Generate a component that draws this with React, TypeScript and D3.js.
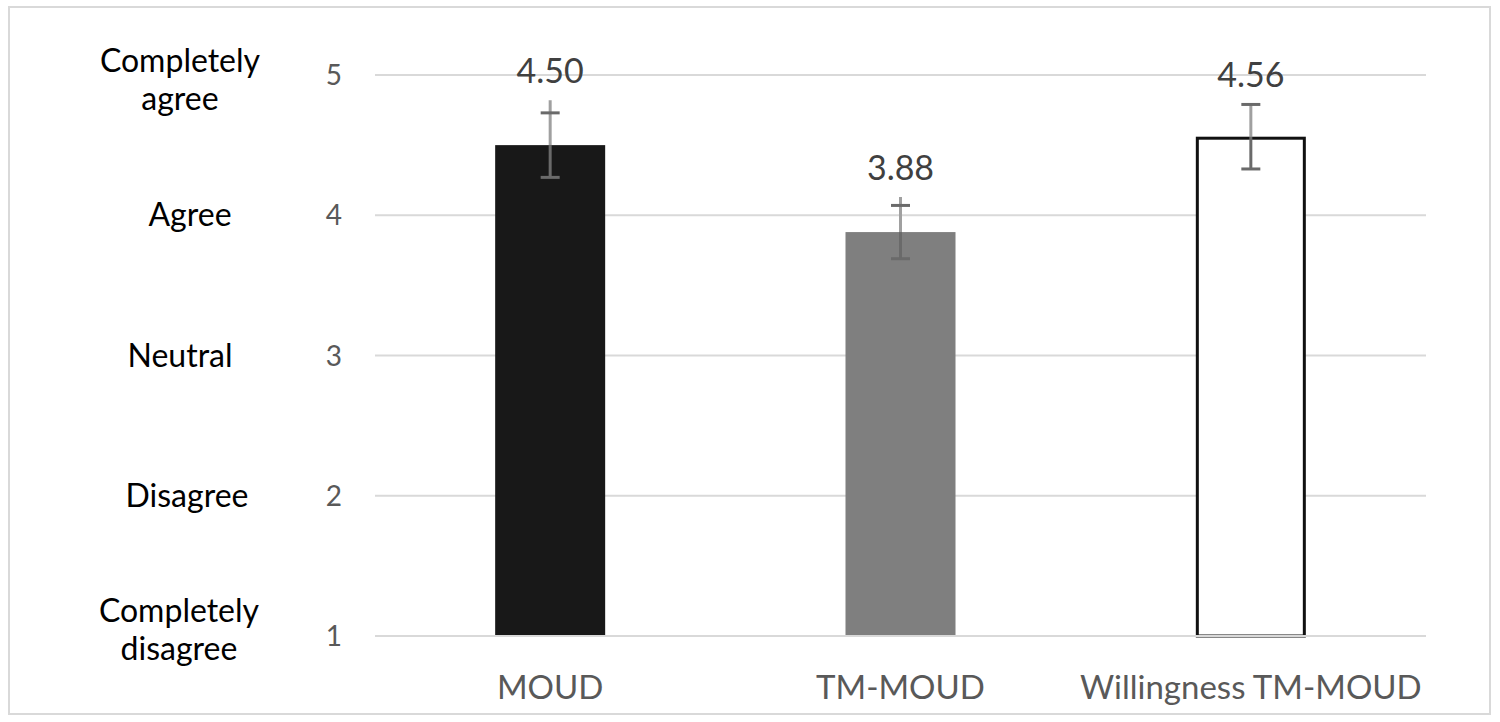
import React from "react";
import * as d3 from "d3";

const categories = ["MOUD", "TM-MOUD", "Willingness TM-MOUD"];
const means = [4.5, 3.88, 4.56];
const errLow = [4.27, 3.69, 4.33];
const errHigh = [4.73, 4.07, 4.79];
const errLineTop = [4.82, 4.13, 4.79];
const valueLabels = ["4.50", "3.88", "4.56"];
const yTicks = [1, 2, 3, 4, 5];
const scaleLabels = [
  { v: 5, lines: ["Completely", "agree"] },
  { v: 4, lines: ["Agree"] },
  { v: 3, lines: ["Neutral"] },
  { v: 2, lines: ["Disagree"] },
  { v: 1, lines: ["Completely", "disagree"] },
];

const W = 1500;
const H = 722;
const FONT = "Lato, 'Open Sans', sans-serif";

const barFill = ["#181818", "#7f7f7f", "#ffffff"];
const barStroke = ["none", "none", "#111111"];
const labelOffset = [62, 52, 50];
const scaleLabelX = [180, 190, 180, 187, 179];
const scaleLabelBaseOff = [-3, 11, 11, 11, -14];

export default function App() {
  const x = d3.scaleBand<string>().domain(categories).range([375, 1426]).paddingInner(0.686).paddingOuter(0.343);
  const y = d3.scaleLinear().domain([1, 5]).range([636, 75]);
  const bw = x.bandwidth();

  return (
    <svg width={W} height={H} style={{ position: "absolute", left: 0, top: 0 }}>
      <rect x={0} y={0} width={W} height={H} fill="#fff" />
      <rect x={9} y={7} width={1481} height={707} fill="#fff" stroke="#d9d9d9" strokeWidth={2} />
      {yTicks.filter((t) => t !== 1).map((t) => (
        <line key={t} x1={375} x2={1426} y1={y(t)} y2={y(t)} stroke="#d9d9d9" strokeWidth={2} />
      ))}
      {categories.map((c, i) => {
        const x0 = x(c)!;
        const sw = barStroke[i] === "none" ? 0 : 3;
        return (
          <rect
            key={c}
            x={x0 + sw / 2}
            y={y(means[i]) + sw / 2}
            width={bw - sw}
            height={y(1) - y(means[i]) - sw / 2}
            fill={barFill[i]}
            stroke={barStroke[i]}
            strokeWidth={sw}
          />
        );
      })}
      <line x1={375} x2={1426} y1={y(1)} y2={y(1)} stroke="#d9d9d9" strokeWidth={2} />
      {categories.map((c, i) => {
        const cx = x(c)! + bw / 2;
        const top = y(errLineTop[i]);
        const hi = y(errHigh[i]);
        const lo = y(errLow[i]);
        const bt = y(means[i]);
        return (
          <g key={"e" + c}>
            <line x1={cx} x2={cx} y1={top} y2={Math.min(bt, lo)} stroke="#a0a0a0" strokeWidth={3} />
            {lo > bt && <line x1={cx} x2={cx} y1={bt} y2={lo} stroke="#6a6a6a" strokeWidth={3} />}
            <line x1={cx - 9.5} x2={cx + 9.5} y1={hi} y2={hi} stroke="#6a6a6a" strokeWidth={3} />
            <line x1={cx - 9.5} x2={cx + 9.5} y1={lo} y2={lo} stroke="#6a6a6a" strokeWidth={3} />
          </g>
        );
      })}
      {categories.map((c, i) => (
        <text
          key={"v" + c}
          x={x(c)! + bw / 2}
          y={y(means[i]) - labelOffset[i]}
          textAnchor="middle"
          fontFamily={FONT}
          fontSize={34}
          fill="#404040"
        >
          {valueLabels[i]}
        </text>
      ))}
      {yTicks.map((t) => (
        <text key={"t" + t} x={342} y={y(t)} dy="0.36em" textAnchor="end" fontFamily={FONT} fontSize={28} fill="#595959">
          {t}
        </text>
      ))}
      {categories.map((c) => (
        <text key={"c" + c} x={x(c)! + bw / 2} y={699} textAnchor="middle" fontFamily={FONT} fontSize={33} fill="#595959">
          {c}
        </text>
      ))}
      {scaleLabels.map((s, i) => {
        const lh = 38;
        const base = y(s.v) + scaleLabelBaseOff[i];
        return (
          <text key={"s" + s.v} x={scaleLabelX[i]} textAnchor="middle" fontFamily={FONT} fontSize={32} fill="#000">
            {s.lines.map((l, j) => (
              <tspan key={j} x={scaleLabelX[i]} y={base + j * lh}>
                {l}
              </tspan>
            ))}
          </text>
        );
      })}
    </svg>
  );
}
